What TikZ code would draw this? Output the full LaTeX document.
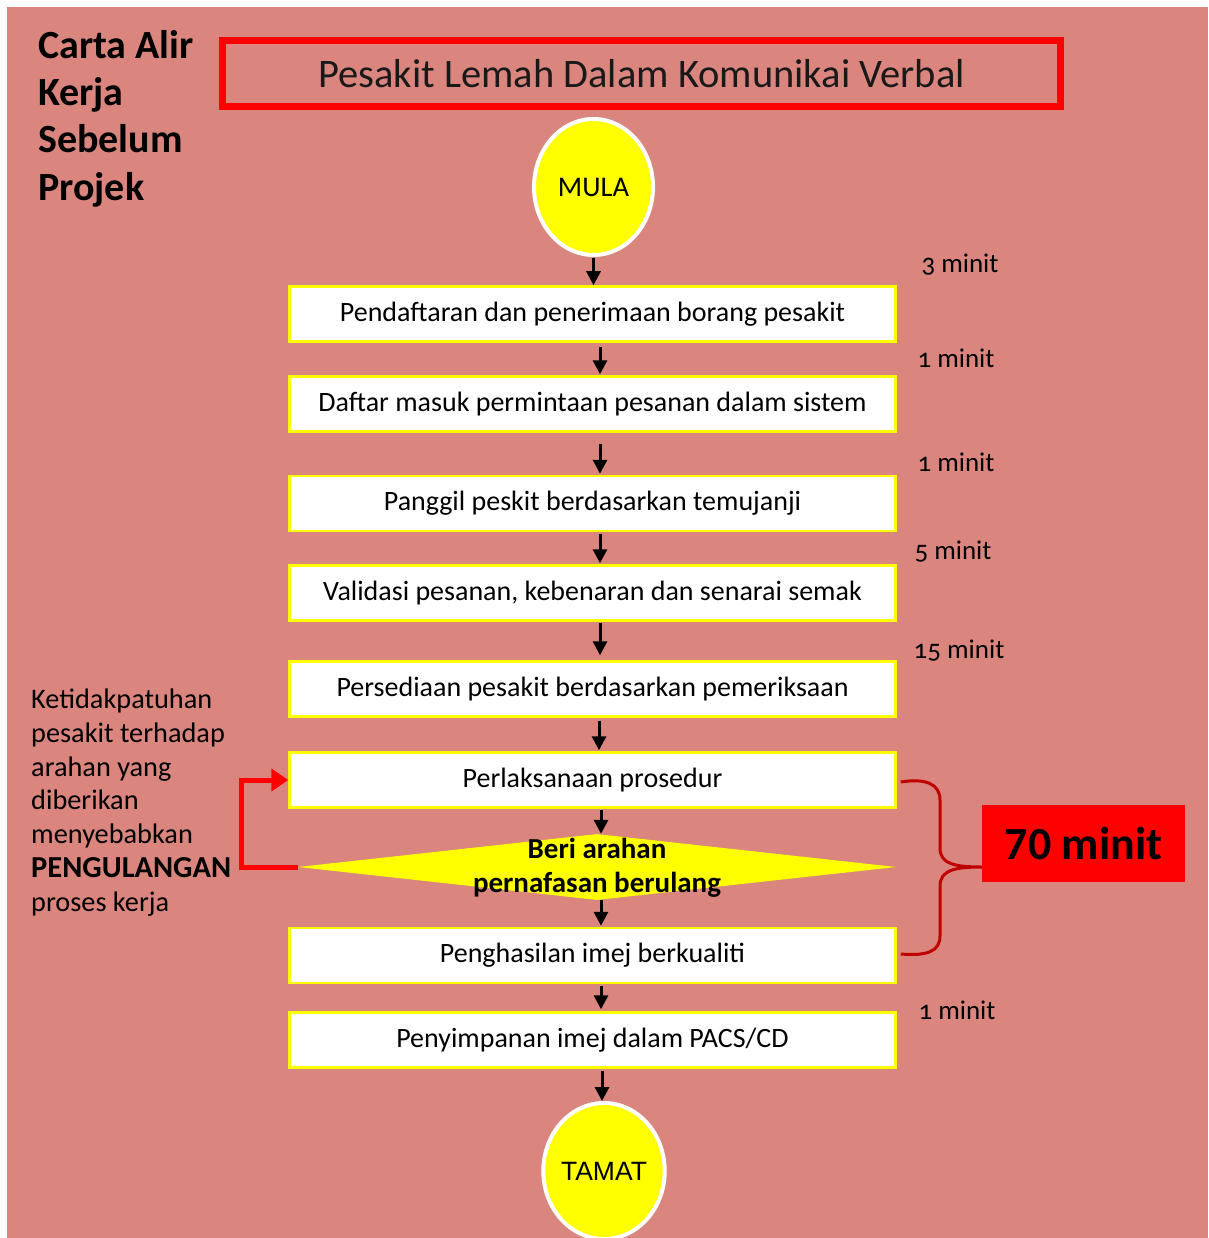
\documentclass[tikz,border=0pt]{standalone}
\usepackage{fontspec}
\setmainfont{Carlito}
\newfontfamily\arialf{Liberation Sans}
\usetikzlibrary{shapes.geometric,arrows.meta,calc}
\definecolor{bgsalmon}{RGB}{218,134,126}
\definecolor{bracered}{RGB}{192,0,0}
\definecolor{pureyellow}{RGB}{255,255,0}
\begin{document}
\begin{tikzpicture}[x=1pt,y=-1pt,
  stepbox/.style={draw=pureyellow, line width=2.5pt, fill=white, minimum width=606pt, minimum height=55pt, inner sep=0pt, font=\fontsize{28}{32}\selectfont},
  term/.style={ellipse, fill=pureyellow, draw=white, line width=4pt, minimum width=119pt, minimum height=136pt, inner sep=0pt},
  flow/.style={-{Triangle[length=14pt,width=14pt]}, line width=3pt, black},
  mins/.style={font=\fontsize{27}{30}\selectfont\addfontfeatures{Numbers=OldStyle}, inner sep=0pt},
]
\useasboundingbox (0,0) rectangle (1208,1238);
\fill[white] (0,0) rectangle (1208,1238);
\fill[bgsalmon] (7,7) rectangle (1208,1238);

% left title
\node[anchor=north west, align=left, inner sep=0pt, font=\bfseries\fontsize{40}{47.3}\selectfont] (ttl) at (38,30) {Carta Alir\\Kerja\\Sebelum\\Projek};

% header
\node[draw=red, line width=7pt, minimum width=838pt, minimum height=66pt, inner sep=0pt, font=\fontsize{40.5}{44}\selectfont, text=black!90] (title) at (641.5,73.5) {Pesakit Lemah Dalam Komunikai Verbal};

% terminals
\node[term, font=\fontsize{28.5}{30}\selectfont] (mula) at (593.5,187) {MULA};
\node[term, font=\arialf\fontsize{26.5}{28}\selectfont] (tamat) at (604,1171) {TAMAT};

% steps
\node[stepbox] (b1) at (592.5,314) {\raisebox{-2pt}{Pendaftaran dan penerimaan borang pesakit}};
\node[stepbox] (b2) at (592.5,404) {\raisebox{-2pt}{Daftar masuk permintaan pesanan dalam sistem}};
\node[stepbox] (b3) at (592.5,503.5) {\raisebox{-2pt}{Panggil peskit berdasarkan temujanji}};
\node[stepbox] (b4) at (592.5,593) {\raisebox{-2pt}{Validasi pesanan, kebenaran dan senarai semak}};
\node[stepbox] (b5) at (592.5,689) {\raisebox{-2pt}{Persediaan pesakit berdasarkan pemeriksaan}};
\node[stepbox] (b6) at (592.5,780) {\raisebox{-2pt}{Perlaksanaan prosedur}};
\node[diamond, fill=pureyellow, minimum width=598pt, minimum height=66pt, inner sep=0pt] (dec) at (597,867) {};
\node[font=\bfseries\fontsize{29}{34}\selectfont, align=center, inner sep=0pt] (dect) at ([yshift=-1pt]dec.center) {Beri arahan\\pernafasan berulang};
\node[stepbox] (b7) at (592.5,955.5) {\raisebox{-2pt}{Penghasilan imej berkualiti}};
\node[stepbox] (b8) at (592.5,1040) {\raisebox{-2pt}{Penyimpanan imej dalam PACS/CD}};

% flow arrows
\draw[flow] ([yshift=-1pt]mula.south) -- (mula.south |- b1.north);
\draw[flow] ([xshift=7.5pt,yshift=-4pt]b1.south) -- ([xshift=7.5pt,yshift=1pt]b2.north);
\draw[flow] ([xshift=7.5pt,yshift=-11pt]b2.south) -- ([xshift=7.5pt,yshift=1pt]b3.north);
\draw[flow] ([xshift=7.5pt,yshift=-2pt]b3.south) -- ([xshift=7.5pt,yshift=1pt]b4.north);
\draw[flow] ([xshift=7.5pt,yshift=-1pt]b4.south) -- ([xshift=7.5pt,yshift=5pt]b5.north);
\draw[flow] ([xshift=6.5pt,yshift=-3pt]b5.south) -- ([xshift=6.5pt,yshift=1pt]b6.north);
\draw[flow] ([xshift=8.5pt,yshift=-1pt]b6.south) -- ([xshift=4pt]dec.north);
\draw[flow] ([xshift=4pt]dec.south) -- ([xshift=8.5pt,yshift=1pt]b7.north);
\draw[flow] ([xshift=8.5pt,yshift=-2pt]b7.south) -- ([xshift=8.5pt,yshift=2pt]b8.north);
\draw[flow] ([xshift=9.5pt,yshift=-2pt]b8.south) -- ([xshift=9.5pt]b8.south |- tamat.north);

% repeat loop
\draw[red, line width=5pt, -{Triangle[length=17pt,width=22pt]}] (dec.west) -| (241,780) -- (b6.west);

% left note
\node[anchor=north west, align=left, inner sep=0pt, font=\fontsize{28.3}{33.7}\selectfont] (note) at (31,689) {Ketidakpatuhan\\pesakit terhadap\\arahan yang\\diberikan\\menyebabkan\\{\bfseries\fontsize{30.5}{33.7}\selectfont PENGULANGAN}\\proses kerja};

% time labels
\node[mins] (t1) at (960,265) {3 minit};
\node[mins] (t2) at (956,358) {1 minit};
\node[mins] (t3) at (956,462) {1 minit};
\node[mins] (t4) at (953,552) {5 minit};
\node[mins] (t5) at (959,651) {15 minit};
\node[mins] (t6) at (957,1010) {1 minit};

% total box and brace
\node[fill=red, minimum width=203pt, minimum height=77pt, inner sep=0pt, font=\bfseries\fontsize{46}{50}\selectfont] (m70) at (1083.5,843.5) {70 minit};
\draw[bracered, line width=3pt] ([xshift=4pt,yshift=-2pt]b6.east) .. controls (926,778) and (940,784) .. (940,800) -- (940,848) .. controls (940,864) and (955,867) .. (m70.west |- dec.center) .. controls (955,867) and (940,870) .. (940,886) -- (940,936) .. controls (940,952) and (926,956) .. ([xshift=4pt,yshift=1.5pt]b7.east);
\end{tikzpicture}
\end{document}
